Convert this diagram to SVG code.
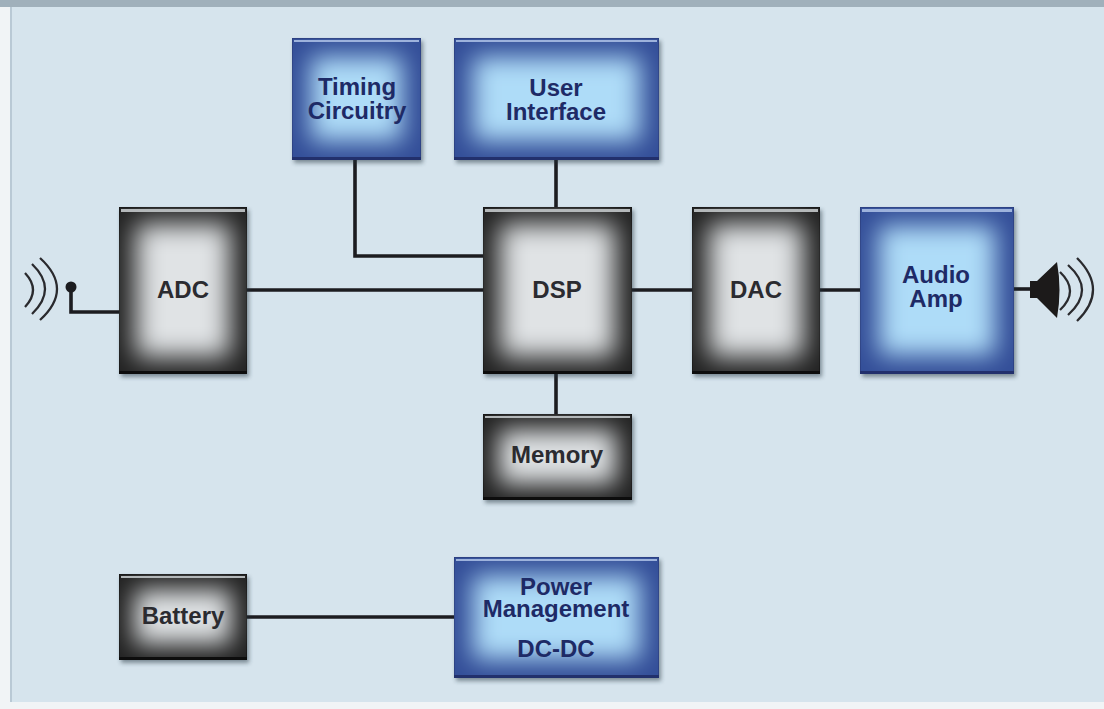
<svg xmlns="http://www.w3.org/2000/svg" width="1104" height="709" viewBox="0 0 1104 709">
<style>
.edge{stroke-width:1.5}
.k .edge{fill:#222;stroke:#141414}
.b .edge{fill:#334e98;stroke:#2b3d7c}
.k .glow{fill:#e0e3e5}
.b .glow{fill:#aedcf8}
.k .hl{fill:#b4b8ba}
.b .hl{fill:#9db2dc}
.k .low{fill:#0d0d0d}
.b .low{fill:#22306c}
.shadow{fill:#24303c;opacity:.5}
.k text{fill:#2b2b30}
.b text{fill:#1e2a66}
text{font-family:"Liberation Sans",Arial,sans-serif;font-weight:700;font-size:24px;text-anchor:middle}
.wire{fill:none;stroke:#1c1c20;stroke-width:3.6}
.wave{fill:none;stroke:#2a2a2e;stroke-width:2.3}
</style>
<defs>
<filter id="soft" x="-40%" y="-40%" width="180%" height="180%"><feGaussianBlur stdDeviation="13"/></filter>
<filter id="softS" x="-40%" y="-40%" width="180%" height="180%"><feGaussianBlur stdDeviation="12"/></filter>
<filter id="sh" x="-10%" y="-10%" width="120%" height="120%"><feGaussianBlur stdDeviation="2.2"/></filter>
<clipPath id="cT"><rect x="292" y="38" width="129" height="122"/></clipPath>
<clipPath id="cU"><rect x="454" y="38" width="205" height="122"/></clipPath>
<clipPath id="cA"><rect x="119" y="207" width="128" height="167"/></clipPath>
<clipPath id="cD"><rect x="483" y="207" width="149" height="167"/></clipPath>
<clipPath id="cC"><rect x="692" y="207" width="128" height="167"/></clipPath>
<clipPath id="cP"><rect x="860" y="207" width="154" height="167"/></clipPath>
<clipPath id="cM"><rect x="483" y="414" width="149" height="86"/></clipPath>
<clipPath id="cB"><rect x="119" y="574" width="128" height="86"/></clipPath>
<clipPath id="cW"><rect x="454" y="557" width="205" height="121"/></clipPath>
</defs>

<g id="background">
<rect width="1104" height="709" fill="#f1f4f6"/>
<rect x="10" y="0" width="1094" height="702" fill="#b9c9d5"/>
<rect x="12" y="7" width="1092" height="695" fill="#d6e4ed"/>
<rect x="0" y="0" width="1104" height="7" fill="#a0b0bb"/>
</g>

<g id="connectors">
<path class="wire" d="M355 160V256H483"/>
<path class="wire" d="M556 160V207"/>
<path class="wire" d="M71 287V312H119"/>
<path class="wire" d="M247 290H483"/>
<path class="wire" d="M632 290H692"/>
<path class="wire" d="M820 290H860"/>
<path class="wire" d="M1014 289H1032"/>
<path class="wire" d="M556 374V414"/>
<path class="wire" d="M247 617H454"/>
</g>

<g id="antenna">
<circle cx="71" cy="287" r="5.5" fill="#1c1c20"/>
<path class="wave" d="M25 273Q41 290 25 307"/>
<path class="wave" d="M32 264Q58 289 32 314"/>
<path class="wave" d="M40 258Q74 289 40 320"/>
</g>

<g id="speaker">
<path d="M1030 281H1037L1057 262Q1062 290 1057 318L1037 298H1030Z" fill="#1c1a1a"/>
<path class="wave" d="M1060 272Q1080 291 1060 310"/>
<path class="wave" d="M1068 265Q1096 290 1068 315"/>
<path class="wave" d="M1077 258Q1109 290 1077 321"/>
</g>

<g id="timing" class="b">
<rect class="shadow" x="294" y="41" width="129" height="122" filter="url(#sh)"/>
<g clip-path="url(#cT)"><rect class="edge" x="292" y="38" width="129" height="122"/><rect class="glow" x="311" y="57" width="91" height="84" filter="url(#softS)"/></g>
<rect class="hl" x="294" y="40" width="125" height="2"/><rect class="low" x="292" y="157" width="129" height="3"/>
<text x="357" y="95">Timing</text><text x="357" y="119">Circuitry</text>
</g>

<g id="user-interface" class="b">
<rect class="shadow" x="456" y="41" width="205" height="122" filter="url(#sh)"/>
<g clip-path="url(#cU)"><rect class="edge" x="454" y="38" width="205" height="122"/><rect class="glow" x="473" y="57" width="167" height="84" filter="url(#softS)"/></g>
<rect class="hl" x="456" y="40" width="201" height="2"/><rect class="low" x="454" y="157" width="205" height="3"/>
<text x="556" y="96">User</text><text x="556" y="120">Interface</text>
</g>

<g id="adc" class="k">
<rect class="shadow" x="121" y="210" width="128" height="167" filter="url(#sh)"/>
<g clip-path="url(#cA)"><rect class="edge" x="119" y="207" width="128" height="167"/><rect class="glow" x="136" y="224" width="94" height="133" filter="url(#soft)"/></g>
<rect class="hl" x="121" y="209" width="124" height="3"/><rect class="low" x="119" y="371" width="128" height="3"/>
<text x="183" y="298">ADC</text>
</g>

<g id="dsp" class="k">
<rect class="shadow" x="485" y="210" width="149" height="167" filter="url(#sh)"/>
<g clip-path="url(#cD)"><rect class="edge" x="483" y="207" width="149" height="167"/><rect class="glow" x="500" y="224" width="115" height="133" filter="url(#soft)"/></g>
<rect class="hl" x="485" y="209" width="145" height="3"/><rect class="low" x="483" y="371" width="149" height="3"/>
<text x="557" y="298">DSP</text>
</g>

<g id="dac" class="k">
<rect class="shadow" x="694" y="210" width="128" height="167" filter="url(#sh)"/>
<g clip-path="url(#cC)"><rect class="edge" x="692" y="207" width="128" height="167"/><rect class="glow" x="709" y="224" width="94" height="133" filter="url(#soft)"/></g>
<rect class="hl" x="694" y="209" width="124" height="3"/><rect class="low" x="692" y="371" width="128" height="3"/>
<text x="756" y="298">DAC</text>
</g>

<g id="audio-amp" class="b">
<rect class="shadow" x="862" y="210" width="154" height="167" filter="url(#sh)"/>
<g clip-path="url(#cP)"><rect class="edge" x="860" y="207" width="154" height="167"/><rect class="glow" x="879" y="226" width="116" height="129" filter="url(#softS)"/></g>
<rect class="hl" x="862" y="209" width="150" height="3"/><rect class="low" x="860" y="371" width="154" height="3"/>
<text x="936" y="283">Audio</text><text x="936" y="307">Amp</text>
</g>

<g id="memory" class="k">
<rect class="shadow" x="485" y="417" width="149" height="86" filter="url(#sh)"/>
<g clip-path="url(#cM)"><rect class="edge" x="483" y="414" width="149" height="86"/><rect class="glow" x="499" y="430" width="117" height="54" filter="url(#softS)"/></g>
<rect class="hl" x="485" y="416" width="145" height="2"/><rect class="low" x="483" y="497" width="149" height="3"/>
<text x="557" y="463">Memory</text>
</g>

<g id="battery" class="k">
<rect class="shadow" x="121" y="577" width="128" height="86" filter="url(#sh)"/>
<g clip-path="url(#cB)"><rect class="edge" x="119" y="574" width="128" height="86"/><rect class="glow" x="135" y="590" width="96" height="54" filter="url(#softS)"/></g>
<rect class="hl" x="121" y="576" width="124" height="2"/><rect class="low" x="119" y="657" width="128" height="3"/>
<text x="183" y="624">Battery</text>
</g>

<g id="power-management" class="b">
<rect class="shadow" x="456" y="560" width="205" height="121" filter="url(#sh)"/>
<g clip-path="url(#cW)"><rect class="edge" x="454" y="557" width="205" height="121"/><rect class="glow" x="473" y="576" width="167" height="83" filter="url(#softS)"/></g>
<rect class="hl" x="456" y="559" width="201" height="2"/><rect class="low" x="454" y="675" width="205" height="3"/>
<text x="556" y="595">Power</text><text x="556" y="617">Management</text><text x="556" y="657">DC-DC</text>
</g>
</svg>
